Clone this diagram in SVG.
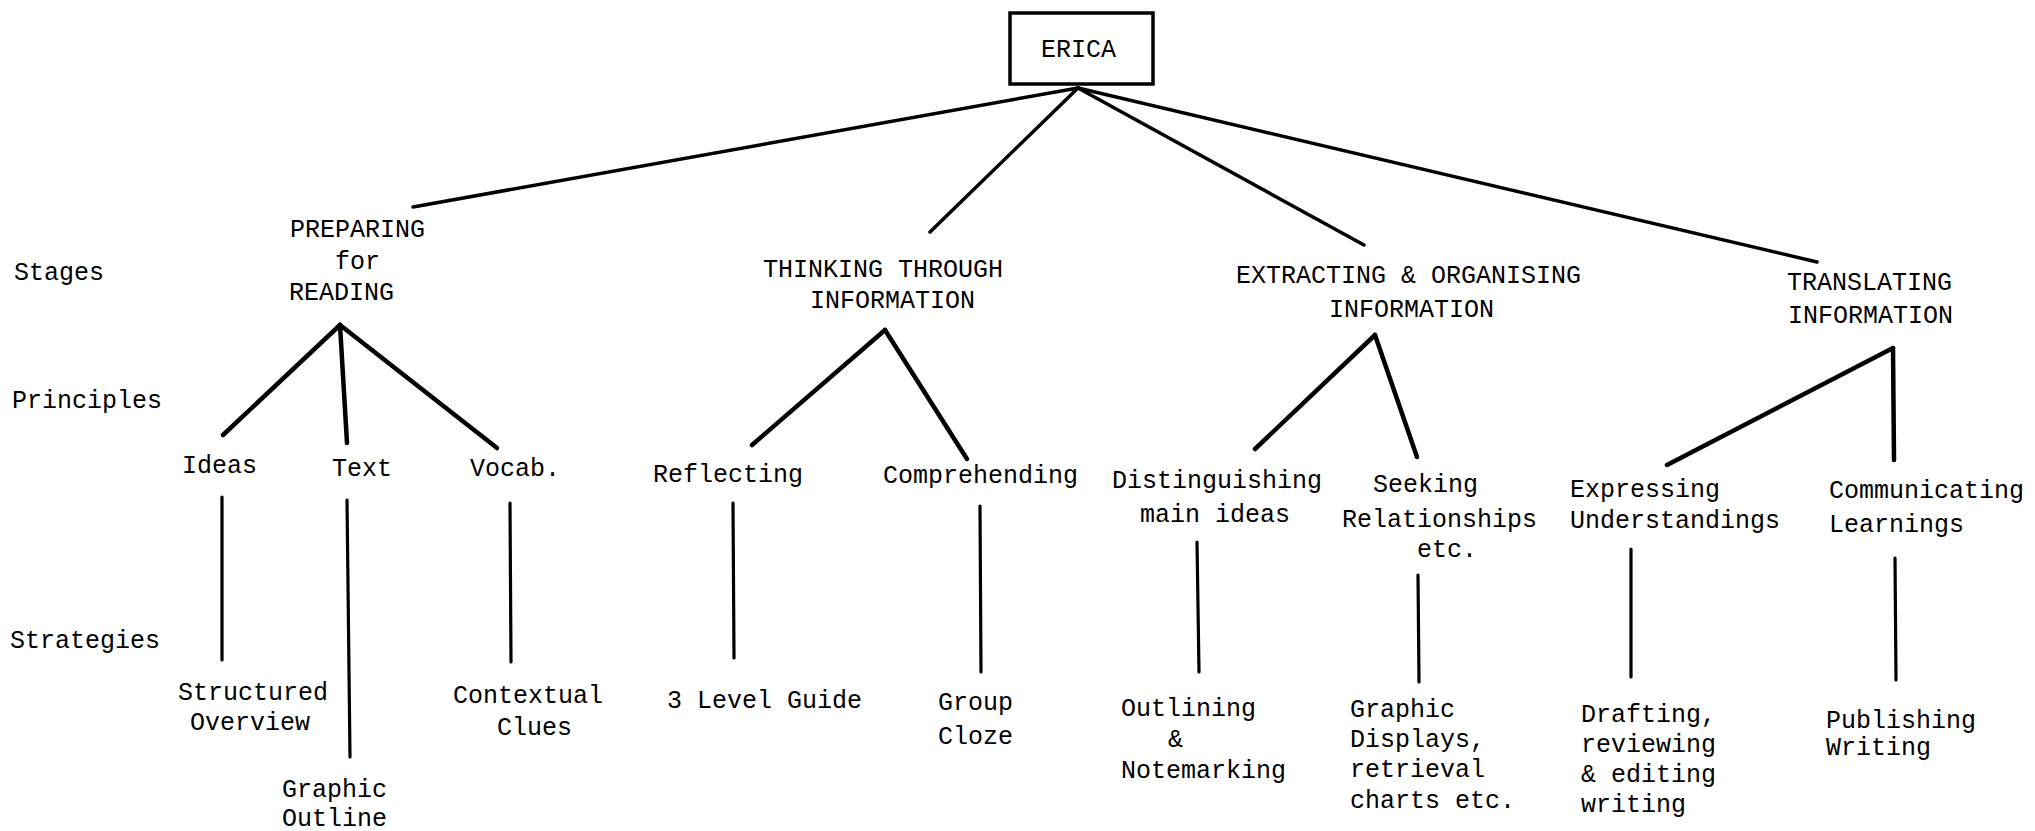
<svg xmlns="http://www.w3.org/2000/svg" width="2035" height="831" viewBox="0 0 2035 831">
<style>
text{font-family:"Liberation Mono","DejaVu Sans Mono",monospace;font-size:25px;fill:#000}
.c line{stroke:#000;stroke-linecap:round}
.t{stroke-width:3.5}
.p{stroke-width:4.5}
.v{stroke-width:3.2}
.box{fill:#fff;stroke:#000;stroke-width:3.5}
</style>
<rect width="2035" height="831" fill="#fff"/>
<g id="connectors" class="c">
<line class="t" x1="1078" y1="88" x2="413" y2="207"/>
<line class="t" x1="1078" y1="88" x2="930" y2="232"/>
<line class="t" x1="1078" y1="88" x2="1364" y2="245"/>
<line class="t" x1="1078" y1="88" x2="1817" y2="262"/>
<line class="p" x1="340" y1="325" x2="223" y2="435"/>
<line class="p" x1="340" y1="325" x2="347" y2="443"/>
<line class="p" x1="340" y1="325" x2="497" y2="448"/>
<line class="p" x1="885" y1="330" x2="752" y2="445"/>
<line class="p" x1="885" y1="330" x2="967" y2="459"/>
<line class="p" x1="1375" y1="335" x2="1255" y2="449"/>
<line class="p" x1="1375" y1="335" x2="1417" y2="457"/>
<line class="p" x1="1893" y1="348" x2="1667" y2="465"/>
<line class="p" x1="1893" y1="348" x2="1894" y2="460"/>
<line class="v" x1="222" y1="497" x2="222" y2="660"/>
<line class="v" x1="347" y1="500" x2="350" y2="757"/>
<line class="v" x1="510" y1="503" x2="511" y2="662"/>
<line class="v" x1="733" y1="503" x2="734" y2="658"/>
<line class="v" x1="980" y1="506" x2="981" y2="672"/>
<line class="v" x1="1197" y1="542" x2="1199" y2="672"/>
<line class="v" x1="1418" y1="575" x2="1419" y2="682"/>
<line class="v" x1="1631" y1="549" x2="1631" y2="677"/>
<line class="v" x1="1895" y1="558" x2="1896" y2="680"/>
</g>
<g id="erica"><rect class="box" x="1010" y="13" width="143" height="71"/><text x="1041" y="57">ERICA</text></g>
<g id="levels">
<text x="14" y="280">Stages</text>
<text x="12" y="408">Principles</text>
<text x="10" y="648">Strategies</text>
</g>
<g id="preparing"><text x="290" y="237">PREPARING</text><text x="335" y="269">for</text><text x="289" y="300">READING</text></g>
<g id="thinking"><text x="763" y="277">THINKING THROUGH</text><text x="810" y="308">INFORMATION</text></g>
<g id="extracting"><text x="1236" y="283">EXTRACTING &amp; ORGANISING</text><text x="1329" y="317">INFORMATION</text></g>
<g id="translating"><text x="1787" y="290">TRANSLATING</text><text x="1788" y="323">INFORMATION</text></g>
<g id="ideas"><text x="182" y="473">Ideas</text></g>
<g id="text"><text x="332" y="476">Text</text></g>
<g id="vocab"><text x="470" y="476">Vocab.</text></g>
<g id="reflecting"><text x="653" y="482">Reflecting</text></g>
<g id="comprehending"><text x="883" y="483">Comprehending</text></g>
<g id="distinguishing"><text x="1112" y="488">Distinguishing</text><text x="1140" y="522">main ideas</text></g>
<g id="seeking"><text x="1373" y="492">Seeking</text><text x="1342" y="527">Relationships</text><text x="1417" y="557">etc.</text></g>
<g id="expressing"><text x="1570" y="497">Expressing</text><text x="1570" y="528">Understandings</text></g>
<g id="communicating"><text x="1829" y="498">Communicating</text><text x="1829" y="532">Learnings</text></g>
<g id="structured"><text x="178" y="700">Structured</text><text x="190" y="730">Overview</text></g>
<g id="graphic-outline"><text x="282" y="797">Graphic</text><text x="282" y="826">Outline</text></g>
<g id="contextual"><text x="453" y="703">Contextual</text><text x="497" y="735">Clues</text></g>
<g id="level-guide"><text x="667" y="708">3 Level Guide</text></g>
<g id="cloze"><text x="938" y="710">Group</text><text x="938" y="744">Cloze</text></g>
<g id="outlining"><text x="1121" y="716">Outlining</text><text x="1168" y="747">&amp;</text><text x="1121" y="778">Notemarking</text></g>
<g id="graphic-displays"><text x="1350" y="717">Graphic</text><text x="1350" y="747">Displays,</text><text x="1350" y="777">retrieval</text><text x="1350" y="808">charts etc.</text></g>
<g id="drafting"><text x="1581" y="722">Drafting,</text><text x="1581" y="752">reviewing</text><text x="1581" y="782">&amp; editing</text><text x="1581" y="812">writing</text></g>
<g id="publishing"><text x="1826" y="728">Publishing</text><text x="1826" y="755">Writing</text></g>
</svg>
